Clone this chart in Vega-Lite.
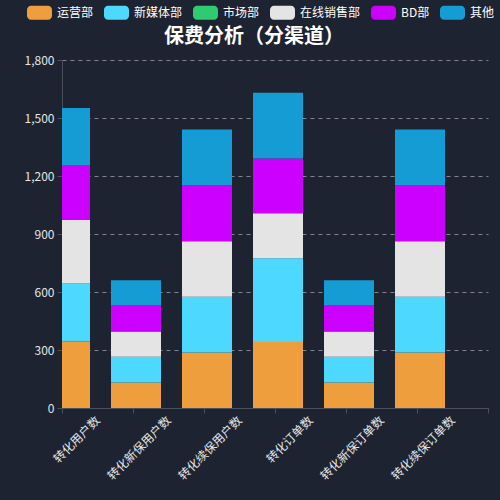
{
  "$schema": "https://vega.github.io/schema/vega-lite/v6.json",
  "autosize": "none",
  "padding": {"left": 62, "top": 60, "right": 12, "bottom": 92},
  "width": 426,
  "height": 348,
  "background": "#1d2330",
  "title": {
    "text": "保费分析（分渠道）",
    "fontSize": 20,
    "fontWeight": "bold",
    "color": "#ffffff",
    "anchor": "middle",
    "dx": -21,
    "dy": 59,
    "offset": 12
  },
  "data": {
    "values": [
      {"channel": "转化用户数", "dept": "运营部", "value": 344},
      {"channel": "转化用户数", "dept": "新媒体部", "value": 300},
      {"channel": "转化用户数", "dept": "市场部", "value": 0},
      {"channel": "转化用户数", "dept": "在线销售部", "value": 328},
      {"channel": "转化用户数", "dept": "BD部", "value": 282},
      {"channel": "转化用户数", "dept": "其他", "value": 298},
      {"channel": "转化新保用户数", "dept": "运营部", "value": 132},
      {"channel": "转化新保用户数", "dept": "新媒体部", "value": 133},
      {"channel": "转化新保用户数", "dept": "市场部", "value": 0},
      {"channel": "转化新保用户数", "dept": "在线销售部", "value": 131},
      {"channel": "转化新保用户数", "dept": "BD部", "value": 134},
      {"channel": "转化新保用户数", "dept": "其他", "value": 131},
      {"channel": "转化续保用户数", "dept": "运营部", "value": 287},
      {"channel": "转化续保用户数", "dept": "新媒体部", "value": 289},
      {"channel": "转化续保用户数", "dept": "市场部", "value": 0},
      {"channel": "转化续保用户数", "dept": "在线销售部", "value": 286},
      {"channel": "转化续保用户数", "dept": "BD部", "value": 291},
      {"channel": "转化续保用户数", "dept": "其他", "value": 287},
      {"channel": "转化订单数", "dept": "运营部", "value": 342},
      {"channel": "转化订单数", "dept": "新媒体部", "value": 432},
      {"channel": "转化订单数", "dept": "市场部", "value": 0},
      {"channel": "转化订单数", "dept": "在线销售部", "value": 233},
      {"channel": "转化订单数", "dept": "BD部", "value": 284},
      {"channel": "转化订单数", "dept": "其他", "value": 340},
      {"channel": "转化新保订单数", "dept": "运营部", "value": 132},
      {"channel": "转化新保订单数", "dept": "新媒体部", "value": 133},
      {"channel": "转化新保订单数", "dept": "市场部", "value": 0},
      {"channel": "转化新保订单数", "dept": "在线销售部", "value": 131},
      {"channel": "转化新保订单数", "dept": "BD部", "value": 134},
      {"channel": "转化新保订单数", "dept": "其他", "value": 131},
      {"channel": "转化续保订单数", "dept": "运营部", "value": 287},
      {"channel": "转化续保订单数", "dept": "新媒体部", "value": 289},
      {"channel": "转化续保订单数", "dept": "市场部", "value": 0},
      {"channel": "转化续保订单数", "dept": "在线销售部", "value": 286},
      {"channel": "转化续保订单数", "dept": "BD部", "value": 291},
      {"channel": "转化续保订单数", "dept": "其他", "value": 287}
    ]
  },
  "transform": [
    {"window": [{"op": "row_number", "as": "stackIndex"}], "groupby": ["channel"]}
  ],
  "mark": {"type": "bar", "width": 50, "xOffset": -32.5, "clip": true},
  "encoding": {
    "x": {
      "field": "channel",
      "type": "nominal",
      "sort": null,
      "title": null,
      "scale": {"paddingInner": 0, "paddingOuter": 0},
      "axis": {
        "labelAngle": -45,
        "labelAlign": "right",
        "labelBaseline": "middle",
        "labelFontSize": 12,
        "labelColor": "#e6e6e6",
        "labelPadding": 5,
        "tickBand": "extent",
        "tickSize": 5,
        "tickColor": "#4a4f5a",
        "domainColor": "#4a4f5a",
        "grid": false
      }
    },
    "y": {
      "field": "value",
      "type": "quantitative",
      "stack": "zero",
      "title": null,
      "scale": {"domain": [0, 1800], "nice": false},
      "axis": {
        "values": [0, 300, 600, 900, 1200, 1500, 1800],
        "format": ",d",
        "labelFontSize": 12,
        "labelColor": "#e6e6e6",
        "labelPadding": 3,
        "tickSize": 5,
        "tickColor": "#4a4f5a",
        "domainColor": "#4a4f5a",
        "gridColor": "#80858f",
        "gridDash": [4, 4]
      }
    },
    "order": {"field": "stackIndex", "type": "quantitative", "sort": "ascending"},
    "color": {
      "field": "dept",
      "type": "nominal",
      "scale": {
        "domain": ["运营部", "新媒体部", "市场部", "在线销售部", "BD部", "其他"],
        "range": ["#ee9e3c", "#4dd8ff", "#2ecc6e", "#e4e4e4", "#cc00ff", "#169cd5"]
      },
      "legend": {
        "title": null,
        "orient": "none",
        "direction": "horizontal",
        "legendX": -35,
        "legendY": -60,
        "symbolType": "M-1,-0.24A0.32,0.32 0 0 1 -0.68,-0.56H0.68A0.32,0.32 0 0 1 1,-0.24V0.24A0.32,0.32 0 0 1 0.68,0.56H-0.68A0.32,0.32 0 0 1 -1,0.24Z",
        "symbolSize": 625,
        "symbolStrokeWidth": 0,
        "symbolOpacity": 1,
        "labelFontSize": 12,
        "labelColor": "#ffffff",
        "labelOffset": 5,
        "columnPadding": 10
      }
    }
  },
  "config": {
    "font": "Noto Sans CJK SC",
    "view": {"stroke": null}
  }
}
